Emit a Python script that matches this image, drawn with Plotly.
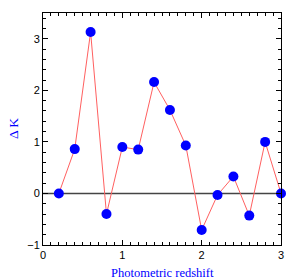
import plotly.graph_objects as go

redshift = [0.2, 0.4, 0.6, 0.8, 1.0, 1.2, 1.4, 1.6, 1.8, 2.0, 2.2, 2.4, 2.6, 2.8, 3.0]
delta_k = [0.0, 0.86, 3.13, -0.40, 0.90, 0.85, 2.16, 1.62, 0.93, -0.71, -0.03, 0.33, -0.43, 1.00, 0.0]

fig = go.Figure()
fig.add_trace(go.Scatter(
    x=redshift, y=delta_k, mode="lines+markers",
    line=dict(color="#ff6060", width=1),
    marker=dict(color="#0000ff", size=10),
    cliponaxis=False, showlegend=False,
))

axis_common = dict(
    showgrid=False, zeroline=False, showline=True, linecolor="black", linewidth=1,
    mirror="allticks", ticks="inside", ticklen=5, tickcolor="black", automargin=False,
    tickfont=dict(family="Liberation Sans, Arial", size=11, color="black"),
    minor=dict(ticks="inside", ticklen=3, tickcolor="black"),
)

title_font = dict(family="Liberation Serif, Times New Roman", size=12.5, color="#0000ff")

fig.update_layout(
    width=300, height=279,
    margin=dict(l=43, r=19, t=13, b=34),
    paper_bgcolor="white", plot_bgcolor="white",
    xaxis=dict(range=[0, 3], tickvals=[0, 1, 2, 3], **axis_common),
    yaxis=dict(range=[-1, 3.5], tickvals=[-1, 0, 1, 2, 3], **axis_common),
    shapes=[dict(type="line", xref="x", yref="y", x0=0, x1=3, y0=0, y1=0,
                 line=dict(color="#444444", width=1.5), layer="below")],
    annotations=[
        dict(text="Photometric redshift", xref="x domain", yref="paper", x=0.5, y=-(273 - 245) / 232,
             showarrow=False, font=title_font, xanchor="center", yanchor="middle"),
        dict(text="Δ K", xref="paper", yref="y domain", x=-(43 - 13) / 238, y=0.5,
             showarrow=False, font=dict(title_font, size=13.5), textangle=-90,
             xanchor="center", yanchor="middle"),
    ],
)
fig.update_xaxes(minor_dtick=0.1)
fig.update_yaxes(minor_dtick=0.2)

fig.write_html("out.html", config={"displayModeBar": False},
               post_script="document.body.style.margin='0';document.body.style.overflow='hidden';")
